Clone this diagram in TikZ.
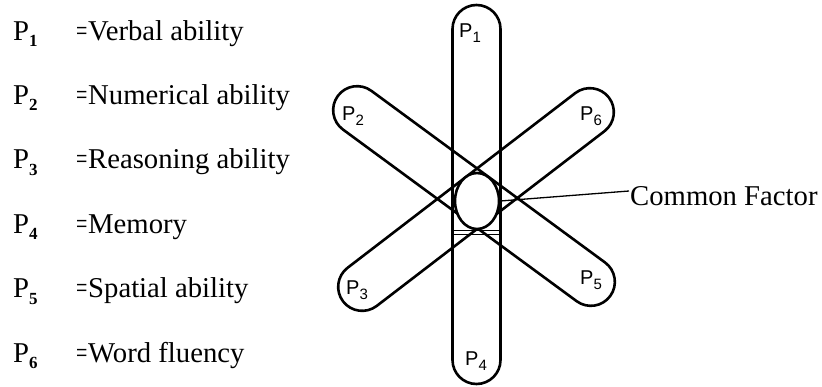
\documentclass[tikz,border=0pt]{standalone}
\usepackage{fontspec}
\setmainfont{Liberation Serif}
\newfontfamily\lblfont{Liberation Sans}
\usetikzlibrary{shapes.misc,shapes.geometric}
\newcommand{\legP}[1]{P\raisebox{-6.5pt}{\fontsize{17}{17}\selectfont\bfseries #1}}
\newcommand{\barP}[1]{P\raisebox{-5.5pt}{\fontsize{15}{15}\selectfont #1}}
\tikzset{
  legend/.style={inner sep=0pt, anchor=base west, font=\fontsize{28.7}{30}\selectfont},
  barshape/.style={draw, rounded rectangle, line width=2.6pt, inner sep=0pt, minimum height=48pt},
  barlbl/.style={inner sep=0pt, font=\lblfont\fontsize{20}{20}\selectfont},
  thinline/.style={line width=1.3pt}
}
\begin{document}
\begin{tikzpicture}[x=1pt,y=-1pt]
\useasboundingbox (0,0) rectangle (822,386);
% legend
\foreach \i/\txt [count=\k from 0] in {1/Verbal ability,2/Numerical ability,3/Reasoning ability,4/Memory,5/Spatial ability,6/Word fluency}{
  \node[legend] (lp\i) at (13,{40+64.4*\k}) {\legP{\i}};
  \node[legend] (le\i) at (76,{40+64.4*\k}) {\scalebox{0.7}[1]{=}};
  \node[legend] (lt\i) at (88,{40+64.4*\k}) {\txt};
}
% bars
\node[barshape, minimum width=379pt, rotate=90] (bar14) at (476.5,194.5) {};
\node[barshape, minimum width=338pt, rotate=-36.3] (bar25) at (474,196) {};
\node[barshape, minimum width=335pt, rotate=37.5] (bar63) at (476,199.5) {};
% double lines under the circle
\draw[thinline] (452,230.5) -- (500,230.5);
\draw[thinline] (452,234.5) -- (500,234.5);
% common factor
\node[draw, ellipse, fill=white, line width=2.6pt, inner sep=0pt, minimum width=44pt, minimum height=56pt] (cf) at (477,201) {};
\node[legend] (cft) at (630,205) {Common Factor};
\coordinate (cfend) at (629,191);
\draw[thinline] (cf.east) -- (cfend);
% bar labels
\node[barlbl] (l1) at (470,33) {\barP{1}};
\node[barlbl] (l2) at (353,116) {\barP{2}};
\node[barlbl] (l3) at (357,290) {\barP{3}};
\node[barlbl] (l4) at (476,361) {\barP{4}};
\node[barlbl] (l5) at (591,280) {\barP{5}};
\node[barlbl] (l6) at (591,116) {\barP{6}};
\end{tikzpicture}
\end{document}
